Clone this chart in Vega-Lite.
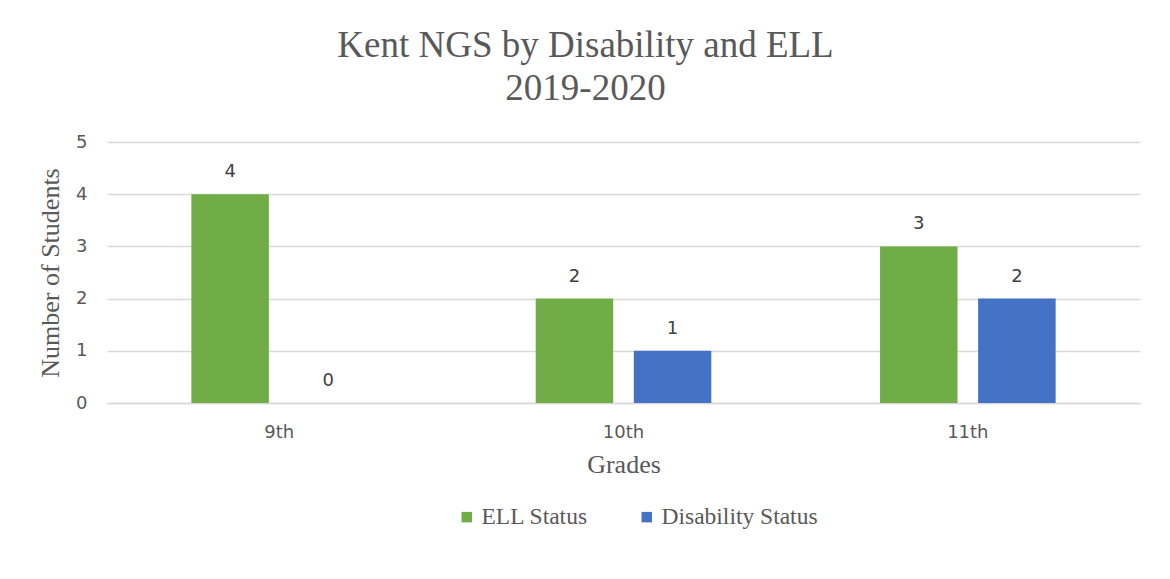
{
  "$schema": "https://vega.github.io/schema/vega-lite/v6.json",
  "width": 1033,
  "height": 261,
  "autosize": {"type": "none"},
  "padding": {"left": 107, "top": 142, "right": 30, "bottom": 176},
  "background": "white",
  "title": {
    "text": ["Kent NGS by Disability and ELL", "2019-2020"],
    "font": "Liberation Serif",
    "fontSize": 37,
    "fontWeight": "normal",
    "color": "#595959",
    "anchor": "middle",
    "dx": -38,
    "offset": 25,
    "lineHeight": 43
  },
  "data": {
    "values": [
      {"grade": "9th", "status": "ELL Status", "count": 4},
      {"grade": "9th", "status": "Disability Status", "count": 0},
      {"grade": "10th", "status": "ELL Status", "count": 2},
      {"grade": "10th", "status": "Disability Status", "count": 1},
      {"grade": "11th", "status": "ELL Status", "count": 3},
      {"grade": "11th", "status": "Disability Status", "count": 2}
    ]
  },
  "encoding": {
    "x": {
      "field": "grade",
      "type": "nominal",
      "sort": ["9th", "10th", "11th"],
      "scale": {"paddingInner": 0.49, "paddingOuter": 0.245},
      "axis": {
        "title": "Grades",
        "titleFont": "Liberation Serif",
        "titleFontSize": 26,
        "titleFontWeight": "normal",
        "titleColor": "#595959",
        "titlePadding": 10,
        "labelFont": "DejaVu Sans",
        "labelFontSize": 18,
        "labelColor": "#595959",
        "labelAngle": 0,
        "labelPadding": 20,
        "ticks": false,
        "domainColor": "#d9d9d9",
        "domainWidth": 1.5
      }
    },
    "xOffset": {
      "field": "status",
      "sort": ["ELL Status", "Disability Status"],
      "scale": {"paddingInner": 0.21}
    },
    "y": {
      "field": "count",
      "type": "quantitative",
      "scale": {"domain": [0, 5]},
      "axis": {
        "title": "Number of Students",
        "titleFont": "Liberation Serif",
        "titleFontSize": 26,
        "titleFontWeight": "normal",
        "titleColor": "#595959",
        "titlePadding": 12,
        "labelFont": "DejaVu Sans",
        "labelFontSize": 18,
        "labelColor": "#595959",
        "labelPadding": 20,
        "tickCount": 5,
        "ticks": false,
        "domain": false,
        "gridColor": "#d9d9d9",
        "gridWidth": 1.5
      }
    }
  },
  "layer": [
    {
      "mark": {"type": "bar"},
      "encoding": {
        "color": {
          "field": "status",
          "type": "nominal",
          "sort": ["ELL Status", "Disability Status"],
          "scale": {"domain": ["ELL Status", "Disability Status"], "range": ["#70ad47", "#4472c4"]},
          "legend": {
            "title": null,
            "orient": "none",
            "legendX": 348,
            "legendY": 363,
            "direction": "horizontal",
            "symbolType": "square",
            "symbolSize": 110,
            "symbolStrokeWidth": 0,
            "labelFont": "Liberation Serif",
            "labelFontSize": 23.5,
            "labelColor": "#595959",
            "labelOffset": 3,
            "columnPadding": 47
          }
        }
      }
    },
    {
      "mark": {"type": "text", "baseline": "bottom", "dy": -13, "font": "DejaVu Sans", "fontSize": 18, "color": "#404040"},
      "encoding": {
        "text": {"field": "count", "type": "quantitative"}
      }
    }
  ],
  "config": {
    "view": {"stroke": null}
  }
}
